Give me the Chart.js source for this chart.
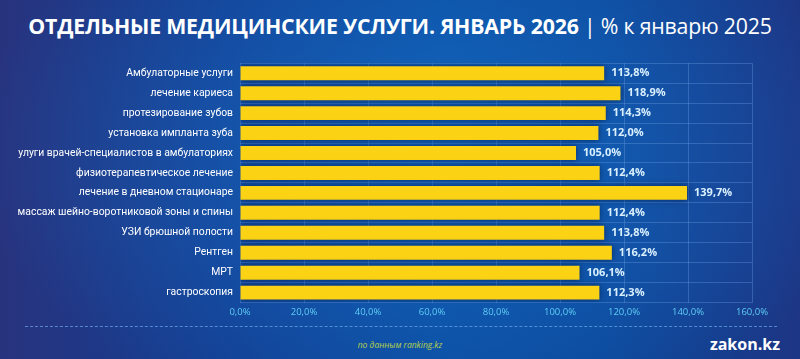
<!DOCTYPE html>
<html>
<head>
<meta charset="utf-8">
<script src="https://cdn.jsdelivr.net/npm/chart.js@4"></script>
<style>
  html, body { margin: 0; padding: 0; }
  body {
    width: 800px; height: 359px; overflow: hidden; position: relative;
    font-family: "Open Sans", sans-serif;
    background:
      radial-gradient(ellipse 460px 280px at 430px 150px, rgba(25,120,210,0.6), rgba(25,120,210,0) 100%),
      linear-gradient(90deg, #28337e 0%, #133f93 28%, #0b4ca0 55%, #0c489b 75%, #1d3584 100%);
  }
  #title {
    position: absolute; left: 0; width: 800px; top: 11px; text-align: center;
    color: #fff; font-size: 21.3px; letter-spacing: -0.2px; white-space: nowrap;
  }
  #title b { font-weight: 700; }
  #title span { font-weight: 400; }
  #wrap { position: absolute; left: 0; top: 50px; width: 800px; height: 272px; }
  #line {
    position: absolute; left: 25px; width: 752px; top: 326px;
    border-top: 1px dashed rgba(110,170,235,0.7);
  }
  #src {
    position: absolute; left: 0; width: 800px; top: 339px; text-align: center;
    color: #b8d24a; font-size: 8.5px; font-style: italic;
  }
  #logo {
    position: absolute; right: 20px; top: 333px;
    color: #fff; font-size: 16px; font-weight: 700;
  }
</style>
</head>
<body>
<div id="title"><b>ОТДЕЛЬНЫЕ МЕДИЦИНСКИЕ УСЛУГИ. ЯНВАРЬ 2026</b><span> | % к январю 2025</span></div>
<div id="wrap"><canvas id="myChart"></canvas></div>
<div id="line"></div>
<div id="src">по данным ranking.kz</div>
<div id="logo">zakon.kz</div>
<script>
// данные
var categories = [
  'Амбулаторные услуги',
  'лечение кариеса',
  'протезирование зубов',
  'установка импланта зуба',
  'улуги врачей-специалистов в амбулаториях',
  'физиотерапевтическое лечение',
  'лечение в дневном стационаре',
  'массаж шейно-воротниковой зоны и спины',
  'УЗИ брюшной полости',
  'Рентген',
  'МРТ',
  'гастроскопия'
];
var values = [113.8, 118.9, 114.3, 112.0, 105.0, 112.4, 139.7, 112.4, 113.8, 116.2, 106.1, 112.3];
var xTicks = [0, 20, 40, 60, 80, 100, 120, 140, 160];

function fmt(v) { return v.toFixed(1).replace('.', ',') + '%'; }

// тень под столбцами
var barShadow = {
  id: 'barShadow',
  beforeDatasetDraw: function(chart) {
    var c = chart.ctx;
    c.save();
    c.shadowColor = 'rgba(0,25,70,0.7)';
    c.shadowBlur = 6;
  },
  afterDatasetDraw: function(chart) { chart.ctx.restore(); }
};

// подписи значений
var valueLabels = {
  id: 'valueLabels',
  afterDatasetsDraw: function(chart) {
    var c = chart.ctx;
    var meta = chart.getDatasetMeta(0);
    c.save();
    c.font = 'bold 11px "Open Sans"';
    c.fillStyle = '#d9f0ff';
    c.textBaseline = 'middle';
    c.textAlign = 'left';
    meta.data.forEach(function(bar, i) {
      c.fillText(fmt(values[i]), bar.x + 7, bar.y);
    });
    c.restore();
  }
};

var ctx = document.getElementById('myChart').getContext('2d');
var myChart = new Chart(ctx, {
  type: 'bar',
  data: {
    labels: categories,
    datasets: [{
      data: values,
      backgroundColor: '#fcd214',
      borderWidth: 0,
      categoryPercentage: 1,
      barPercentage: 0.7
    }]
  },
  options: {
    indexAxis: 'y',
    responsive: true,
    maintainAspectRatio: false,
    animation: false,
    layout: { padding: { top: 10, right: 48, bottom: 0, left: 0 } },
    plugins: { legend: { display: false }, tooltip: { enabled: false } },
    scales: {
      x: {
        min: 0, max: 160,
        afterBuildTicks: function(axis) { axis.ticks = xTicks.map(function(v) { return { value: v }; }); },
        ticks: {
          color: '#5fcdf5',
          font: { family: 'Open Sans', size: 9.5 },
          padding: 4,
          callback: function(v) { return fmt(v); }
        },
        grid: { color: 'rgba(110,160,230,0.35)', drawTicks: false },
        border: { display: false }
      },
      y: {
        afterFit: function(axis) { axis.width = 240; },
        ticks: {
          color: '#ffffff',
          font: { family: 'Roboto', size: 10.4 },
          padding: 7
        },
        grid: { color: 'rgba(110,160,230,0.35)', drawTicks: false, offset: true },
        border: { display: false }
      }
    }
  },
  plugins: [barShadow, valueLabels]
});
</script>
</body>
</html>
